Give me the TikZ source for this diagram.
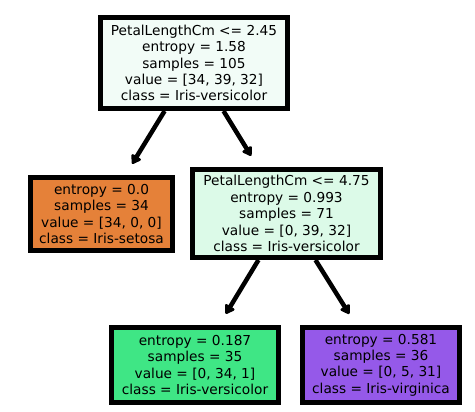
\documentclass[tikz,border=0pt]{standalone}
\usepackage{fontspec}
\setmainfont{DejaVu Sans}
\usetikzlibrary{arrows.meta}
\definecolor{rootfill}{RGB}{242,252,247}
\definecolor{innerfill}{RGB}{220,250,232}
\definecolor{setosafill}{RGB}{229,129,57}
\definecolor{versifill}{RGB}{63,230,133}
\definecolor{virgifill}{RGB}{149,89,233}
\begin{document}
\begin{tikzpicture}[x=1pt,y=-1pt,
  box/.style={draw=black, line width=5pt, align=center, inner sep=0pt,
    font=\fontsize{13.7}{16.4}\selectfont},
  edge/.style={line width=4.5pt, -{Triangle[length=10pt,width=12pt,round]}, shorten >=13pt}]
  \useasboundingbox[fill=white] (0,0) rectangle (475,412);
  % split nodes
  \node[box, fill=rootfill, minimum width=187pt, minimum height=91pt] (root) at (194,63)
    {PetalLengthCm <= 2.45\\entropy = 1.58\\samples = 105\\value = [34, 39, 32]\\class = Iris-versicolor};
  \node[box, fill=innerfill, minimum width=188pt, minimum height=88pt] (inner) at (286.5,213.5)
    {PetalLengthCm <= 4.75\\entropy = 0.993\\samples = 71\\value = [0, 39, 32]\\class = Iris-versicolor};
  % leaves
  \node[box, fill=setosafill, minimum width=142pt, minimum height=73pt] (setosa) at (101.5,214)
    {entropy = 0.0\\samples = 34\\value = [34, 0, 0]\\class = Iris-setosa};
  \node[box, fill=versifill, minimum width=167pt, minimum height=75pt] (versi) at (195,365)
    {entropy = 0.187\\samples = 35\\value = [0, 34, 1]\\class = Iris-versicolor};
  \node[box, fill=virgifill, minimum width=157pt, minimum height=75pt] (virgi) at (381,365)
    {entropy = 0.581\\samples = 36\\value = [0, 5, 31]\\class = Iris-virginica};
  \draw[edge] (root) -- (setosa);
  \draw[edge] (root) -- (inner);
  \draw[edge] (inner) -- (versi);
  \draw[edge] (inner) -- (virgi);
\end{tikzpicture}
\end{document}
